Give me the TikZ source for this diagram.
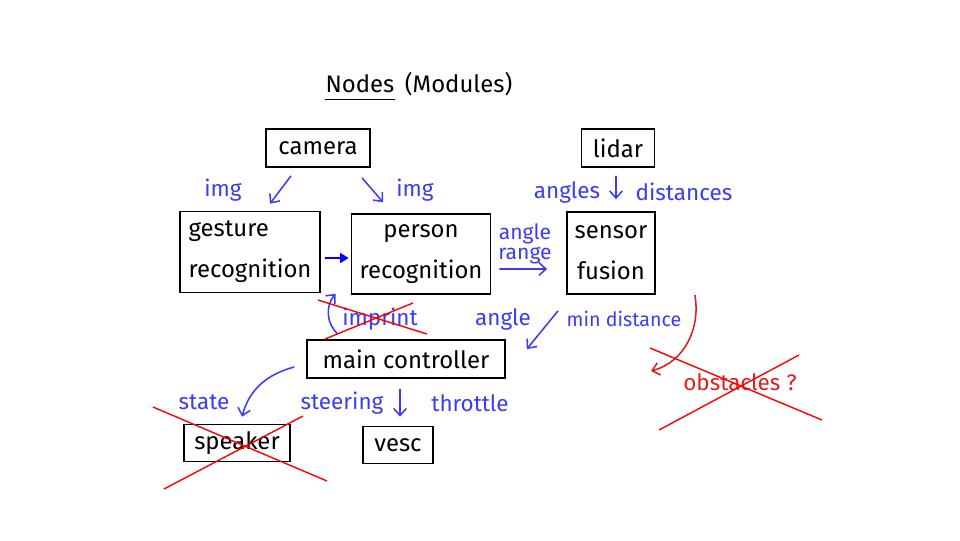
\documentclass[tikz,border=0pt]{standalone}
\usepackage{fontspec}
\setmainfont{Fira Sans}
\usepackage{xcolor}
\usetikzlibrary{arrows.meta, positioning, calc}

\definecolor{penblue}{RGB}{60,60,245}
\definecolor{penred}{RGB}{225,30,30}
\tikzset{
  module/.style={draw, line width=1.2pt, inner sep=0pt, font=\fontsize{17}{29}\selectfont},
  msg/.style={text=penblue, font=\fontsize{16}{17}\selectfont},
  flow/.style={draw=penblue, line width=1.1pt, -{Straight Barb[length=5pt,width=9pt]}},
  nope/.style={red, line width=1pt},
}

\begin{document}
\begin{tikzpicture}
			\fill[white] (0,0) rectangle (24,-13.5);
			% title
			\node[inner sep=0pt, font=\fontsize{17}{20}\selectfont] (nodesword) at (9.0,-2.1) {Nodes};
			\node[inner sep=0pt, font=\fontsize{17}{20}\selectfont, right=0.25cm of nodesword] (modules) {(Modules)};
			\draw[line width=1.2pt] ($(nodesword.south west)+(0,-0.15)$) -- ($(nodesword.south east)+(0,-0.15)$);
			% modules
			\node[module, minimum width=2.6cm, minimum height=0.95cm] (camera) at (7.95,-3.7) {camera};
			\node[module, minimum width=1.825cm, minimum height=0.95cm] (lidar) at (15.45,-3.7) {lidar};
			\node[module, minimum width=3.5cm, minimum height=2.025cm, align=left] (gesture) at (6.25,-6.3) {gesture\\recognition};
			\node[module, minimum width=3.475cm, minimum height=2cm, align=center] (person) at (10.525,-6.35) {person\\recognition};
			\node[module, minimum width=2.2cm, minimum height=2.05cm, align=center] (sensor) at (15.275,-6.325) {sensor\\fusion};
			\node[module, minimum width=4.95cm, minimum height=0.95cm] (main) at (10.15,-8.975) {main controller};
			\node[module, minimum width=2.65cm, minimum height=0.925cm] (speaker) at (5.925,-11.075) {speaker};
			\node[module, minimum width=1.75cm, minimum height=0.925cm] (vesc) at (9.95,-11.125) {vesc};
			% messages
			\node[msg] (img1) at (5.575,-4.75) {img};
			\node[msg] (img2) at (10.375,-4.75) {img};
			\node[msg] (angles) at (14.175,-4.8) {angles};
			\node[msg] (distances) at (17.1,-4.8) {distances};
			\node[msg, align=center, font=\fontsize{15}{14}\selectfont] (anglerange) at (13.125,-6.1) {angle\\range};
			\node[msg] (imprint) at (9.5,-7.975) {imprint};
			\node[msg] (angle) at (12.575,-7.975) {angle};
			\node[msg, font=\fontsize{14}{15}\selectfont] (mindist) at (15.6,-7.975) {min distance};
			\node[msg] (state) at (5.1,-10.05) {state};
			\node[msg] (steering) at (8.55,-10.075) {steering};
			\node[msg] (throttle) at (11.75,-10.075) {throttle};
			\node[msg, text=penred] (obst) at (18.5,-9.55) {obstacles ?};
			% arrows
			\draw[flow] ($(camera.south)+(-0.675,-0.2)$) -- ($(gesture.north)+(0.5,0.175)$);
			\draw[flow] ($(camera.south)+(1.1,-0.25)$) -- ($(person.north)+(-0.95,0.275)$);
			\draw[flow] ($(lidar.south)+(-0.05,-0.2)$) -- ($(sensor.north)+(0.125,0.3)$);
			\draw[flow, draw=blue, -{Triangle[length=6pt,width=7pt]}] ($(gesture.east)+(0.1,-0.15)$) -- ($(person.west)+(-0.05,-0.1)$);
			\draw[flow] ($(person.east)+(0.2,-0.375)$) -- ($(sensor.west)+(-0.475,-0.4)$);
			\draw[flow] ($(sensor.south)+(-1.325,-0.4)$) -- ($(main.east)+(0.525,0.25)$);
			\draw[flow] ($(main.north)+(-1.7,0.125)$) to[bend left=45] ($(person.south west)+(-0.375,0.025)$);
			\draw[flow] ($(main.west)+(-0.3,-0.2)$) to[out=195,in=75] ($(speaker.north)+(0.125,0.175)$);
			\draw[flow] ($(main.south)+(-0.15,-0.25)$) -- ($(vesc.north)+(0.05,0.225)$);
			\draw[flow, draw=penred] ($(sensor.south east)+(0.975,0)$) to[out=-80,in=15] ($(obst.center)+(-2.225,0.275)$);
			% crossed out
			\draw[nope] ($(imprint)+(-1.55,0.475)$) -- ($(imprint)+(1.175,-0.375)$);
			\draw[nope] ($(imprint)+(-1.375,-0.5)$) -- ($(imprint)+(0.825,0.4)$);
			\draw[nope] ($(speaker)+(-2.1,0.9)$) -- ($(speaker)+(2.25,-0.95)$);
			\draw[nope] ($(speaker)+(-1.825,-1.15)$) -- ($(speaker)+(1.65,0.675)$);
			\draw[nope] ($(obst)+(-2.25,0.85)$) -- ($(obst)+(2.05,-0.95)$);
			\draw[nope] ($(obst)+(-2.025,-1.2)$) -- ($(obst)+(1.475,0.675)$);
		\end{tikzpicture}
\end{document}
